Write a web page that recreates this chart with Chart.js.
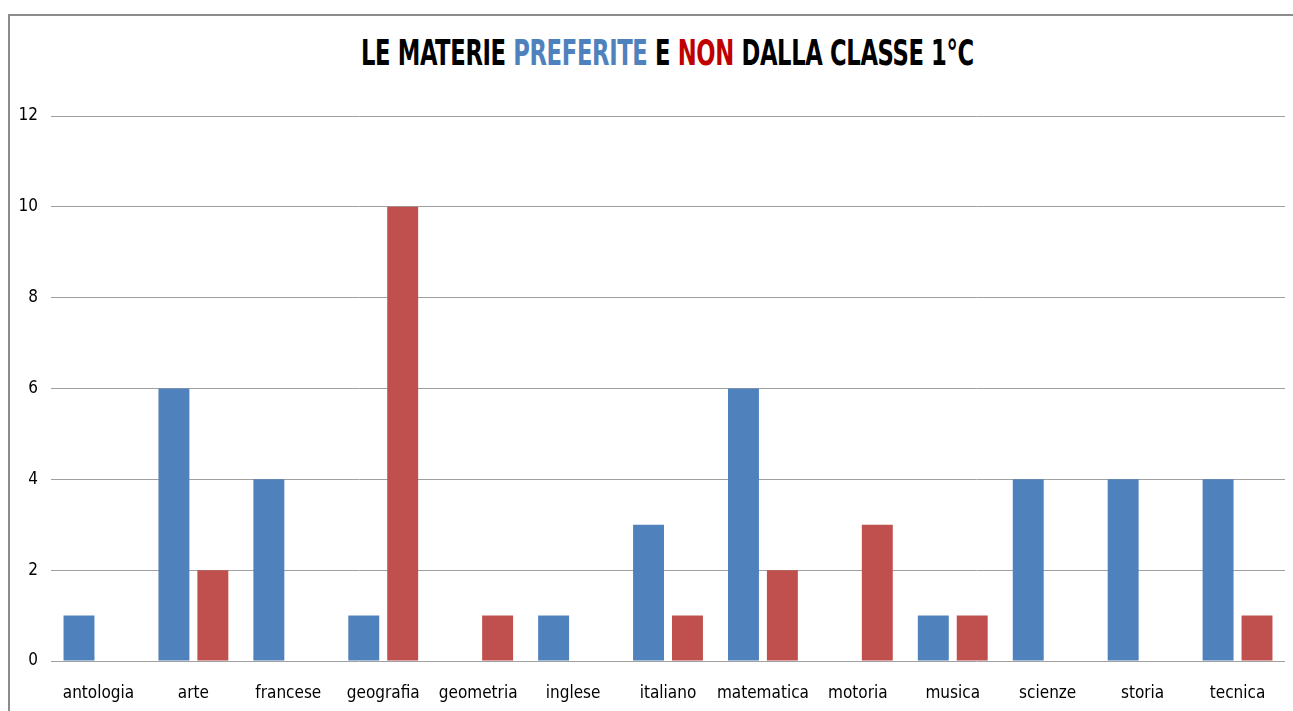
<!DOCTYPE html>
<html><head><meta charset="utf-8">
<script src="https://cdn.jsdelivr.net/npm/chart.js@4/dist/chart.umd.min.js"></script>
<style>
html,body{margin:0;padding:0;background:#fff;width:1293px;height:711px;overflow:hidden;}
#frame{position:absolute;left:8px;top:14px;width:1300px;height:720px;border-top:2px solid #8c8c8c;border-left:2px solid #8c8c8c;}
#title{position:absolute;left:0;top:32px;width:1335px;text-align:center;font-family:'DejaVu Sans Condensed',sans-serif;font-weight:bold;font-size:36px;color:#000;letter-spacing:-0.5px;transform:scaleX(0.70);transform-origin:667px 0;white-space:nowrap;}
#wrap{position:absolute;left:10px;top:17px;width:1283px;height:694px;}
</style></head>
<body>
<div id="frame"></div>
<div id="title">LE MATERIE <span style="color:#4F81BD">PREFERITE</span> E <span style="color:#C00000">NON</span> DALLA CLASSE 1°C</div>
<div id="wrap"><canvas id="c"></canvas></div>
<script>
const categories = ['antologia','arte','francese','geografia','geometria','inglese','italiano','matematica','motoria','musica','scienze','storia','tecnica'];
const preferite = [1,6,4,1,0,1,3,6,0,1,4,4,4];
const nonPreferite = [0,2,0,10,1,0,1,2,3,1,0,0,1];
const yTicks = [0,2,4,6,8,10,12];

const FONT = "'DejaVu Sans Condensed',sans-serif";
new Chart(document.getElementById('c'), {
  type: 'bar',
  data: {
    labels: categories,
    datasets: [
      {label:'PREFERITE', data: preferite, backgroundColor:'#4F81BD', categoryPercentage:0.82, barPercentage:0.795},
      {label:'NON', data: nonPreferite, backgroundColor:'#C0504D', categoryPercentage:0.82, barPercentage:0.795}
    ]
  },
  options: {
    responsive:true, maintainAspectRatio:false, animation:false,
    layout:{padding:{top:99,right:8,bottom:0,left:0}},
    plugins:{legend:{display:false}, tooltip:{enabled:false}},
    scales:{
      x:{
        grid:{display:false},
        border:{display:false},
        ticks:{color:'#000', font:{family:FONT,size:17}, padding:14, maxRotation:0, autoSkip:false},
        afterFit:(s)=>{s.height=50;}
      },
      y:{
        min:0, max:12,
        afterBuildTicks:(s)=>{s.ticks = yTicks.map(v=>({value:v}));},
        grid:{color:'#a0a0a0', lineWidth:1, drawTicks:false},
        border:{display:false},
        ticks:{color:'#000', font:{family:FONT,size:17}, padding:13},
        afterFit:(s)=>{s.width=41;}
      }
    }
  }
});
</script>
</body></html>
